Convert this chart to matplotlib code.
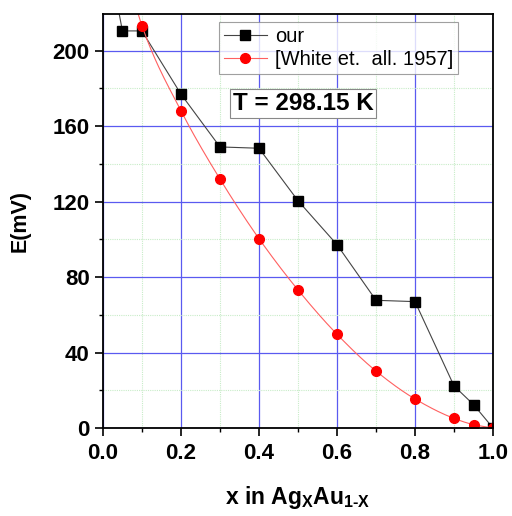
import numpy as np
import matplotlib
matplotlib.use("Agg")
import matplotlib.pyplot as plt
from matplotlib.ticker import MultipleLocator

plt.rcParams['font.family'] = ['Liberation Sans', 'DejaVu Sans']
plt.rcParams['mathtext.fontset'] = 'custom'
plt.rcParams['mathtext.rm'] = 'Liberation Sans:bold'
plt.rcParams['mathtext.it'] = 'Liberation Sans:bold'
plt.rcParams['mathtext.bf'] = 'Liberation Sans:bold'

# data
x_our = [0.0, 0.05, 0.1, 0.2, 0.3, 0.4, 0.5, 0.6, 0.7, 0.8, 0.9, 0.95, 1.0]
e_our = [265, 210.5, 210.5, 177, 149, 148.3, 120.5, 97.2, 67.7, 67.0, 22.3, 12.4, 0.0]
x_white = [0.0, 0.1, 0.2, 0.3, 0.4, 0.5, 0.6, 0.7, 0.8, 0.9, 0.95, 1.0]
e_white = [300, 213.3, 168.2, 132.0, 100.4, 73.2, 49.7, 30.2, 15.4, 5.1, 1.8, 0.0]
label_our = "our"
label_white = "[White et.  all. 1957]"
temp_text = "T = 298.15 K"


def smooth(xs, ys, n=30):
    xs = np.asarray(xs, float); ys = np.asarray(ys, float)
    h = np.diff(xs); d = np.diff(ys) / h
    m = np.zeros_like(xs)
    m[0] = d[0]; m[-1] = d[-1]
    for i in range(1, len(xs) - 1):
        if d[i - 1] * d[i] <= 0:
            m[i] = 0
        else:
            w1 = 2 * h[i] + h[i - 1]; w2 = h[i] + 2 * h[i - 1]
            m[i] = (w1 + w2) / (w1 / d[i - 1] + w2 / d[i])
    X, Y = [], []
    for i in range(len(xs) - 1):
        t = np.linspace(0, 1, n, endpoint=(i == len(xs) - 2))
        h00 = 2*t**3 - 3*t**2 + 1; h10 = t**3 - 2*t**2 + t
        h01 = -2*t**3 + 3*t**2; h11 = t**3 - t**2
        X.append(xs[i] + t * h[i])
        Y.append(h00*ys[i] + h10*h[i]*m[i] + h01*ys[i+1] + h11*h[i]*m[i+1])
    return np.concatenate(X), np.concatenate(Y)


fig = plt.figure(figsize=(5.12, 5.16), dpi=100)
ax = fig.add_axes([0.201, 0.1705, 0.762, 0.8025])

ax.set_xlim(0, 1.0)
ax.set_ylim(0, 219.5)
ax.xaxis.set_major_locator(MultipleLocator(0.2))
ax.xaxis.set_minor_locator(MultipleLocator(0.1))
ax.yaxis.set_major_locator(MultipleLocator(40))
ax.yaxis.set_minor_locator(MultipleLocator(20))

ax.grid(which='major', color='#5a5af0', lw=0.9)
ax.grid(which='minor', color='#c8ecc8', lw=0.8, ls=(0, (1, 1)))
ax.set_axisbelow(True)

ax.plot(x_our, e_our, color='#444444', lw=0.8, marker='s', ms=7,
        mfc='black', mec='black', label=label_our)
xs, ys = smooth(x_white, e_white)
ax.plot(xs, ys, color='#ff6060', lw=0.8)
ax.plot(x_white, e_white, color='#ff6060', lw=0.8, marker='o', ms=7,
        mfc='red', mec='red', ls='none')
ax.plot([], [], color='#ff6060', lw=0.8, marker='o', ms=7, mfc='red',
        mec='red', label=label_white)

ax.tick_params(which='major', direction='out', length=6, width=1.2,
               labelsize=16, top=False, right=False)
ax.tick_params(axis='x', which='major', pad=5)
ax.tick_params(which='minor', direction='out', length=3, width=1.0,
               top=False, right=False)
for s in ax.spines.values():
    s.set_linewidth(1.3)

ax.set_xticks([0.0, 0.2, 0.4, 0.6, 0.8, 1.0])
ax.set_xticklabels(['0.0', '0.2', '0.4', '0.6', '0.8', '1.0'], fontweight='bold')
ax.set_yticks([0, 40, 80, 120, 160, 200])
ax.set_yticklabels(['0', '40', '80', '120', '160', '200'], fontweight='bold')

ax.set_ylabel('E(mV)', fontsize=15.5, fontweight='bold', labelpad=16)
ax.set_xlabel(r'x in Ag$_{X}$Au$_{1\text{-}X}$', fontsize=16.5,
              fontweight='bold', labelpad=14)

leg = ax.legend(loc='upper left', bbox_to_anchor=(0.297, 0.98), fontsize=14.5,
                frameon=True, fancybox=False, edgecolor='#888888',
                handlelength=2.15, borderpad=0.25, labelspacing=0.2,
                handletextpad=0.4, borderaxespad=0)
leg.get_frame().set_linewidth(0.8)

ax.text(0.333, 0.784, temp_text, transform=ax.transAxes, fontsize=17.5,
        fontweight='bold', va='center', ha='left',
        bbox=dict(boxstyle='square,pad=0.12', fc='white', ec='#888888', lw=0.8))

fig.savefig('out.png', dpi=100)
